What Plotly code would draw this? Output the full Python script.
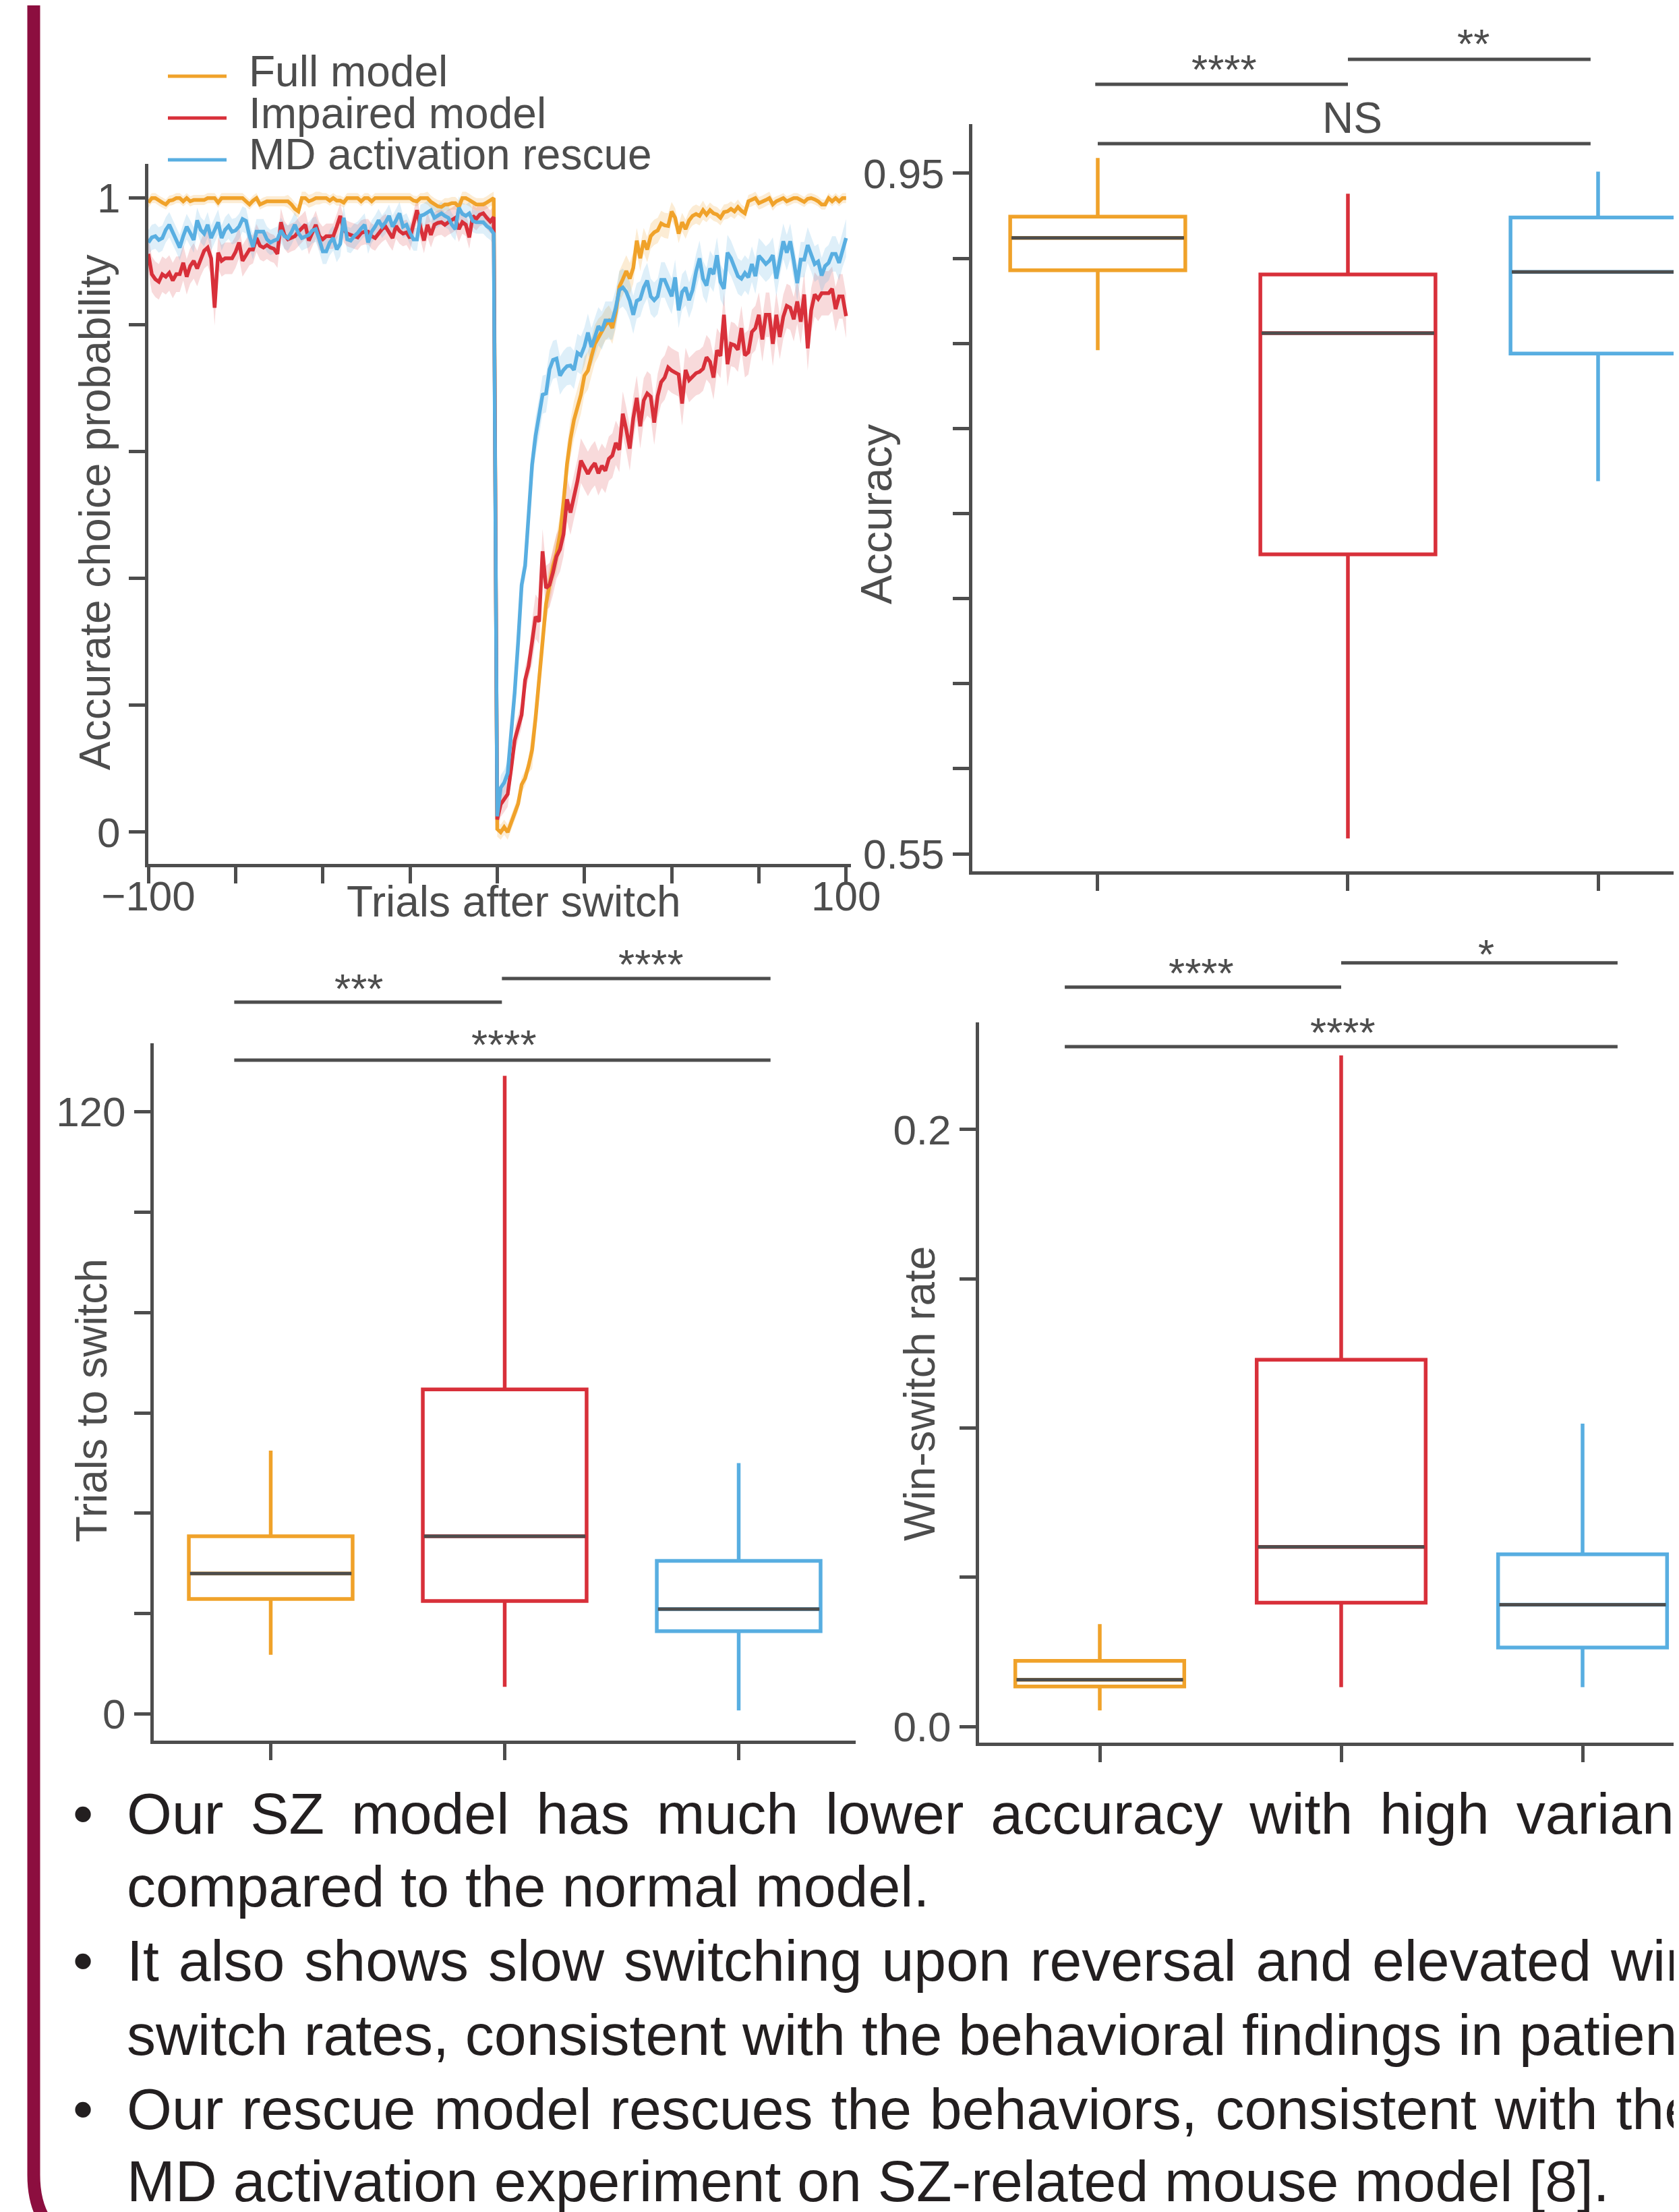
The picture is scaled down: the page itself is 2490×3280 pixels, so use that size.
import plotly.graph_objects as go

W, H = 2490, 3280
OX, OY = 8, 8  # page body offset of the figure
GRAY = '#4D4D4D'
ORANGE = '#F0A22A'
RED = '#D8303A'
BLUE = '#58AEE1'
TEXT = '#231F20'
MAROON = '#8C0E3F'
FONT = 'Liberation Sans, Arial, Helvetica, sans-serif'

# ---------------- data ----------------
models = ['Full model', 'Impaired model', 'MD activation rescue']
colors = [ORANGE, RED, BLUE]
trials = list(range(-100, 101))

full_mean = [
    0.993, 1.0, 1.0, 0.996, 0.993, 0.990, 0.996, 0.997, 1.0, 1.0,
    0.995, 1.0, 0.995, 0.997, 0.997, 0.997, 0.997, 1.0, 1.0, 1.0,
    0.993, 1.0, 1.0, 1.0, 1.0, 1.0, 1.0, 1.0, 0.995, 0.990,
    0.996, 1.0, 0.990, 0.993, 0.995, 0.995, 0.995, 0.995, 0.995, 0.995,
    0.995, 0.990, 0.983, 0.979, 1.0, 1.0, 0.995, 0.997, 1.0, 1.0,
    1.0, 1.0, 0.996, 1.0, 0.996, 0.996, 0.993, 1.0, 1.0, 1.0,
    1.0, 0.995, 1.0, 1.0, 0.995, 1.0, 1.0, 1.0, 1.0, 1.0,
    1.0, 1.0, 1.0, 1.0, 1.0, 1.0, 0.996, 0.995, 1.0, 1.0,
    1.0, 0.994, 0.990, 0.987, 0.986, 0.990, 0.990, 0.992, 0.992, 0.986,
    1.0, 1.0, 0.997, 0.993, 0.990, 0.990, 0.990, 0.993, 0.997, 1.0,
    0.005, 0.0, 0.008, 0.0, 0.015, 0.030, 0.045, 0.075, 0.085, 0.105,
    0.13, 0.18, 0.24, 0.31, 0.36, 0.39, 0.42, 0.44, 0.47, 0.52,
    0.58, 0.62, 0.65, 0.67, 0.69, 0.72, 0.728, 0.75, 0.77, 0.78,
    0.79, 0.80, 0.806, 0.795, 0.82, 0.86, 0.872, 0.885, 0.873, 0.89,
    0.933, 0.905, 0.933, 0.919, 0.940, 0.946, 0.949, 0.96, 0.957, 0.956,
    0.979, 0.969, 0.944, 0.962, 0.951, 0.965, 0.972, 0.975, 0.972, 0.981,
    0.974, 0.981, 0.976, 0.974, 0.969, 0.978, 0.979, 0.983, 0.979, 0.986,
    0.980, 0.976, 0.995, 0.997, 1.0, 0.992, 0.994, 0.997, 1.0, 0.990,
    0.995, 0.997, 1.0, 0.995, 0.997, 1.0, 1.0, 0.997, 0.994, 0.999,
    1.0, 0.998, 0.995, 0.990, 0.990, 1.0, 0.995, 1.0, 0.995, 1.0,
    1.0]

impaired_mean = [
    0.912, 0.880, 0.872, 0.868, 0.880, 0.876, 0.882, 0.870, 0.880, 0.880,
    0.898, 0.876, 0.893, 0.901, 0.889, 0.905, 0.917, 0.922, 0.905, 0.827,
    0.914, 0.901, 0.905, 0.905, 0.905, 0.915, 0.930, 0.901, 0.910, 0.919,
    0.919, 0.937, 0.925, 0.922, 0.926, 0.922, 0.920, 0.912, 0.962, 0.942,
    0.935, 0.938, 0.940, 0.947, 0.952, 0.958, 0.933, 0.945, 0.958, 0.940,
    0.935, 0.940, 0.940, 0.940, 0.955, 0.972, 0.950, 0.944, 0.942, 0.940,
    0.938, 0.945, 0.947, 0.947, 0.940, 0.937, 0.945, 0.951, 0.955, 0.945,
    0.937, 0.956, 0.948, 0.944, 0.946, 0.937, 0.960, 0.981, 0.954, 0.933,
    0.958, 0.942, 0.958, 0.961, 0.962, 0.958, 0.962, 0.965, 0.969, 0.951,
    0.962, 0.958, 0.938, 0.972, 0.967, 0.974, 0.976, 0.969, 0.963, 0.970,
    0.02, 0.044, 0.052, 0.060, 0.10, 0.145, 0.165, 0.185, 0.24, 0.262,
    0.30, 0.34, 0.332, 0.443, 0.385, 0.39, 0.41, 0.435, 0.446, 0.47,
    0.525, 0.504, 0.529, 0.554, 0.586, 0.575, 0.565, 0.575, 0.582, 0.566,
    0.578, 0.570, 0.589, 0.594, 0.614, 0.603, 0.660, 0.635, 0.605, 0.653,
    0.685, 0.640, 0.681, 0.692, 0.687, 0.646, 0.688, 0.710, 0.717, 0.733,
    0.728, 0.725, 0.722, 0.676, 0.729, 0.713, 0.719, 0.724, 0.726, 0.731,
    0.749, 0.742, 0.717, 0.760, 0.751, 0.816, 0.738, 0.770, 0.768, 0.761,
    0.795, 0.752, 0.757, 0.789, 0.795, 0.816, 0.777, 0.816, 0.816, 0.770,
    0.816, 0.781, 0.813, 0.830, 0.827, 0.809, 0.837, 0.805, 0.848, 0.763,
    0.823, 0.848, 0.841, 0.850, 0.850, 0.850, 0.857, 0.825, 0.845, 0.845,
    0.814]

rescue_mean = [
    0.930, 0.938, 0.940, 0.934, 0.937, 0.950, 0.958, 0.946, 0.935, 0.922,
    0.940, 0.955, 0.945, 0.934, 0.965, 0.950, 0.944, 0.958, 0.937, 0.950,
    0.962, 0.937, 0.950, 0.956, 0.947, 0.949, 0.955, 0.967, 0.964, 0.940,
    0.923, 0.947, 0.947, 0.947, 0.935, 0.930, 0.933, 0.935, 0.949, 0.940,
    0.937, 0.946, 0.958, 0.945, 0.937, 0.940, 0.942, 0.949, 0.951, 0.935,
    0.916, 0.916, 0.930, 0.937, 0.919, 0.928, 0.969, 0.935, 0.933, 0.940,
    0.945, 0.952, 0.958, 0.930, 0.947, 0.955, 0.965, 0.955, 0.962, 0.972,
    0.955, 0.965, 0.976, 0.955, 0.958, 0.945, 0.935, 0.935, 0.972, 0.974,
    0.978, 0.981, 0.969, 0.972, 0.976, 0.972, 0.969, 0.958, 0.951, 0.985,
    0.975, 0.972, 0.976, 0.964, 0.962, 0.962, 0.962, 0.956, 0.952, 0.944,
    0.025, 0.07, 0.078, 0.093, 0.15, 0.22, 0.30, 0.39, 0.42, 0.50,
    0.58, 0.625, 0.655, 0.69, 0.692, 0.73, 0.745, 0.747, 0.72, 0.729,
    0.735, 0.736, 0.729, 0.756, 0.752, 0.766, 0.788, 0.765, 0.781, 0.798,
    0.791, 0.807, 0.807, 0.807, 0.827, 0.855, 0.859, 0.852, 0.838, 0.816,
    0.838, 0.841, 0.859, 0.870, 0.845, 0.839, 0.845, 0.871, 0.871, 0.857,
    0.845, 0.875, 0.823, 0.852, 0.859, 0.839, 0.855, 0.884, 0.905, 0.873,
    0.862, 0.889, 0.880, 0.910, 0.868, 0.857, 0.914, 0.905, 0.891, 0.877,
    0.873, 0.882, 0.875, 0.896, 0.877, 0.909, 0.903, 0.896, 0.901, 0.910,
    0.873, 0.905, 0.932, 0.914, 0.932, 0.901, 0.866, 0.903, 0.903, 0.926,
    0.912, 0.896, 0.900, 0.878, 0.893, 0.898, 0.912, 0.912, 0.898, 0.919,
    0.937]

# SEM read per 10-trial block (block 20 = trial 100)
full_sem_block = [0.008, 0.008, 0.008, 0.008, 0.010, 0.008, 0.008, 0.008, 0.010, 0.010,
                  0.012, 0.030, 0.030, 0.025, 0.020, 0.015, 0.012, 0.010, 0.008, 0.008, 0.008]
impaired_sem_block = [0.028, 0.028, 0.025, 0.022, 0.022, 0.020, 0.020, 0.020, 0.020, 0.018,
                      0.020, 0.035, 0.035, 0.035, 0.035, 0.035, 0.035, 0.035, 0.035, 0.035, 0.035]
rescue_sem_block = [0.020, 0.020, 0.020, 0.020, 0.020, 0.020, 0.018, 0.018, 0.018, 0.018,
                    0.020, 0.030, 0.030, 0.030, 0.028, 0.028, 0.028, 0.028, 0.028, 0.028, 0.030]

# Box plot statistics (Full, Impaired, Rescue)
acc_lower = [0.846, 0.559, 0.769]
acc_q1 = [0.893, 0.726, 0.844]
acc_median = [0.912, 0.856, 0.892]
acc_q3 = [0.9245, 0.8905, 0.924]
acc_upper = [0.959, 0.938, 0.951]

tts_lower = [11.8, 5.4, 0.7]
tts_q1 = [22.9, 22.5, 16.5]
tts_median = [28.0, 35.4, 20.9]
tts_q3 = [35.4, 64.7, 30.5]
tts_upper = [52.5, 127.2, 50.0]

ws_lower = [0.0054, 0.0132, 0.0132]
ws_q1 = [0.0134, 0.0415, 0.0265]
ws_median = [0.0157, 0.0602, 0.0408]
ws_q3 = [0.0220, 0.1229, 0.0577]
ws_upper = [0.0343, 0.2248, 0.1015]

# significance comparisons: (x start, x end, label) in category units
acc_sig = [(-0.01, 1.0, '****'), (1.0, 1.97, '**'), (0.0, 1.97, 'NS')]
tts_sig = [(-0.156, 0.988, '***'), (0.988, 2.136, '****'), (-0.156, 2.136, '****')]
ws_sig = [(-0.145, 1.0, '****'), (1.0, 2.145, '*'), (-0.145, 2.145, '****')]

bullets = [
    ('Our SZ model has much lower accuracy with high variance', 16, True),
    ('compared to the normal model.', 0, False),
    ('It also shows slow switching upon reversal and elevated win-', 5, True),
    ('switch rates, consistent with the behavioral findings in patients,', 0, False),
    ('Our rescue model rescues the behaviors, consistent with the', 3, True),
    ('MD activation experiment on SZ-related mouse model [8].', 0, False),
]


# ---------------- helpers (screen pixel -> paper) ----------------
def fx(x):
    return (x - OX) / W


def fy(y):
    return 1 - (y - OY) / H


fig = go.Figure()

# ---------------- panel A: line chart ----------------
means = [full_mean, impaired_mean, rescue_mean]
sems = [full_sem_block, impaired_sem_block, rescue_sem_block]
band_cols = ['rgba(240,162,42,0.20)', 'rgba(216,48,58,0.18)', 'rgba(88,174,225,0.20)']
for m, s, bc in zip(means, sems, band_cols):
    sem = [s[min((t + 100) // 10, 20)] for t in trials]
    up = [a + b for a, b in zip(m, sem)]
    lo = [a - b for a, b in zip(m, sem)]
    fig.add_trace(go.Scatter(x=trials + trials[::-1], y=up + lo[::-1], fill='toself',
                             fillcolor=bc, line=dict(width=0), mode='lines',
                             hoverinfo='skip', showlegend=False, xaxis='x', yaxis='y'))
for m, c, name in zip(means, colors, models):
    fig.add_trace(go.Scatter(x=trials, y=m, mode='lines', name=name,
                             line=dict(color=c, width=5.5), showlegend=False,
                             xaxis='x', yaxis='y'))

# ---------------- box panels ----------------
box_sets = [
    ('x2', 'y2', acc_lower, acc_q1, acc_median, acc_q3, acc_upper),
    ('x3', 'y3', tts_lower, tts_q1, tts_median, tts_q3, tts_upper),
    ('x4', 'y4', ws_lower, ws_q1, ws_median, ws_q3, ws_upper),
]
for xa, ya, lw, q1, md, q3, up in box_sets:
    for i in range(3):
        fig.add_trace(go.Box(x=[i], q1=[q1[i]], median=[md[i]], q3=[q3[i]],
                             lowerfence=[lw[i]], upperfence=[up[i]],
                             width=0.7, whiskerwidth=0, boxpoints=False,
                             fillcolor='rgba(0,0,0,0)',
                             line=dict(color=colors[i], width=5.5),
                             name=models[i], showlegend=False, hoverinfo='skip',
                             xaxis=xa, yaxis=ya))
        fig.add_trace(go.Scatter(x=[i - 0.345, i + 0.345], y=[md[i], md[i]], mode='lines',
                                 line=dict(color=GRAY, width=5), showlegend=False,
                                 hoverinfo='skip', xaxis=xa, yaxis=ya))

# ---------------- axes ----------------
tickfont = dict(family=FONT, size=62, color=GRAY)
common = dict(showline=True, linecolor=GRAY, linewidth=5, ticks='outside', ticklen=24,
              tickwidth=5, tickcolor=GRAY, showgrid=False, zeroline=False,
              tickfont=tickfont, fixedrange=True, automargin=False)

right_edge = W + OX  # screen x of the paper's right edge
fig.update_layout(
    xaxis=dict(domain=[fx(220), fx(1262)], range=[-100, 101.4], anchor='y',
               tickvals=[-100, -75, -50, -25, 0, 25, 50, 75, 100],
               ticktext=['\u2212100', '', '', '', '', '', '', '', '100'],
               ticklabelstandoff=-34, **common),
    yaxis=dict(domain=[fy(1281), fy(243)], range=[-0.05, 1.054], anchor='x',
               tickvals=[0, 0.2, 0.4, 0.6, 0.8, 1.0],
               ticktext=['0', '', '', '', '', '1'], **common),
    xaxis2=dict(domain=[fx(1442), 1.0], range=[-0.5013, (right_edge - 1628) / 371.0],
                anchor='y2', tickvals=[0, 1, 2], ticktext=['', '', ''], **common),
    yaxis2=dict(domain=[fy(1292), fy(184)], range=[0.5397, 0.9789], anchor='x2',
                tickvals=[0.55, 0.60, 0.65, 0.70, 0.75, 0.80, 0.85, 0.90, 0.95],
                ticktext=['0.55', '', '', '', '', '', '', '', '0.95'], **common),
    xaxis3=dict(domain=[fx(228), fx(1269)], range=[-0.5, 2.5], anchor='y3',
                tickvals=[0, 1, 2], ticktext=['', '', ''], **common),
    yaxis3=dict(domain=[fy(2581), fy(1547)], range=[-5.31, 133.67], anchor='x3',
                tickvals=[0, 20, 40, 60, 80, 100, 120],
                ticktext=['0', '', '', '', '', '', '120'], **common),
    xaxis4=dict(domain=[fx(1452), 1.0], range=[-0.5, (right_edge - 1631) / 358.0],
                anchor='y4', tickvals=[0, 1, 2], ticktext=['', '', ''], **common),
    yaxis4=dict(domain=[fy(2584), fy(1515.5)], range=[-0.00538, 0.2360], anchor='x4',
                tickvals=[0, 0.05, 0.10, 0.15, 0.20],
                ticktext=['0.0', '', '', '', '0.2'], **common),
)

annotations = []
shapes = []


def label(text, x, y, size=62, color=GRAY, xanchor='center', angle=0):
    annotations.append(dict(text=text, x=fx(x), y=fy(y), xref='paper', yref='paper',
                            xanchor=xanchor, yanchor='middle', showarrow=False,
                            textangle=angle, font=dict(family=FONT, size=size, color=color)))


# axis titles
label('Trials after switch', 762, 1337, size=64)
label('Accurate choice probability', 141, 760, size=64, angle=-90)
label('Accuracy', 1300, 762, size=65, angle=-90)
label('Trials to switch', 136, 2077, size=64, angle=-90)
label('Win-switch rate', 1364, 2067, size=64, angle=-90)

# legend
leg_y_line = [113, 175, 237]
leg_y_text = [106, 168, 229]
for name, c, yl, yt in zip(models, colors, leg_y_line, leg_y_text):
    shapes.append(dict(type='line', xref='paper', yref='paper', x0=fx(249), x1=fx(336),
                       y0=fy(yl), y1=fy(yl), line=dict(color=c, width=5)))
    label(name, 367, yt, size=64, xanchor='left')

# significance bars (bar y px, text y px, text x px)
sig_layout = [
    ('x2', acc_sig, [125, 88, 213], [102, 64, 175], [1815, 2185, 2005]),
    ('x3', tts_sig, [1486, 1451, 1572], [1465, 1429, 1549], [532, 965, 747]),
    ('x4', ws_sig, [1463.7, 1427.8, 1552], [1442, 1414, 1530], [1781, 2204, 1991]),
]
for xa, sig, bar_y, txt_y, txt_x in sig_layout:
    for (a, b, lab), by, ty, tx in zip(sig, bar_y, txt_y, txt_x):
        shapes.append(dict(type='line', xref=xa, yref='paper', x0=a, x1=b,
                           y0=fy(by), y1=fy(by), line=dict(color=GRAY, width=5)))
        label(lab, tx, ty, size=64 if lab == 'NS' else 62)

# bullet text
line_y = [2689, 2797, 2907, 3017, 3127, 3234]
for (txt, ws, has_bullet), yy in zip(bullets, line_y):
    if has_bullet:
        label('\u2022', 123, yy, size=86, color=TEXT)
    t = txt if ws == 0 else '<span style="word-spacing:%dpx">%s</span>' % (ws, txt)
    label(t, 186, yy, size=86, color=TEXT, xanchor='left')

# poster border (left edge with rounded corner)
path = 'M %f,%f L %f,%f C %f,%f %f,%f %f,%f' % (
    fx(50), fy(-30), fx(50), fy(3225), fx(50), fy(3300), fx(90), fy(3340), fx(190), fy(3345))
shapes.append(dict(type='path', xref='paper', yref='paper', path=path,
                   line=dict(color=MAROON, width=19)))

fig.update_layout(annotations=annotations, shapes=shapes, width=W, height=H,
                  margin=dict(l=0, r=0, t=0, b=0, pad=0, autoexpand=False), showlegend=False,
                  paper_bgcolor='white', plot_bgcolor='white',
                  font=dict(family=FONT, color=GRAY))

fig.write_html('out.html')
